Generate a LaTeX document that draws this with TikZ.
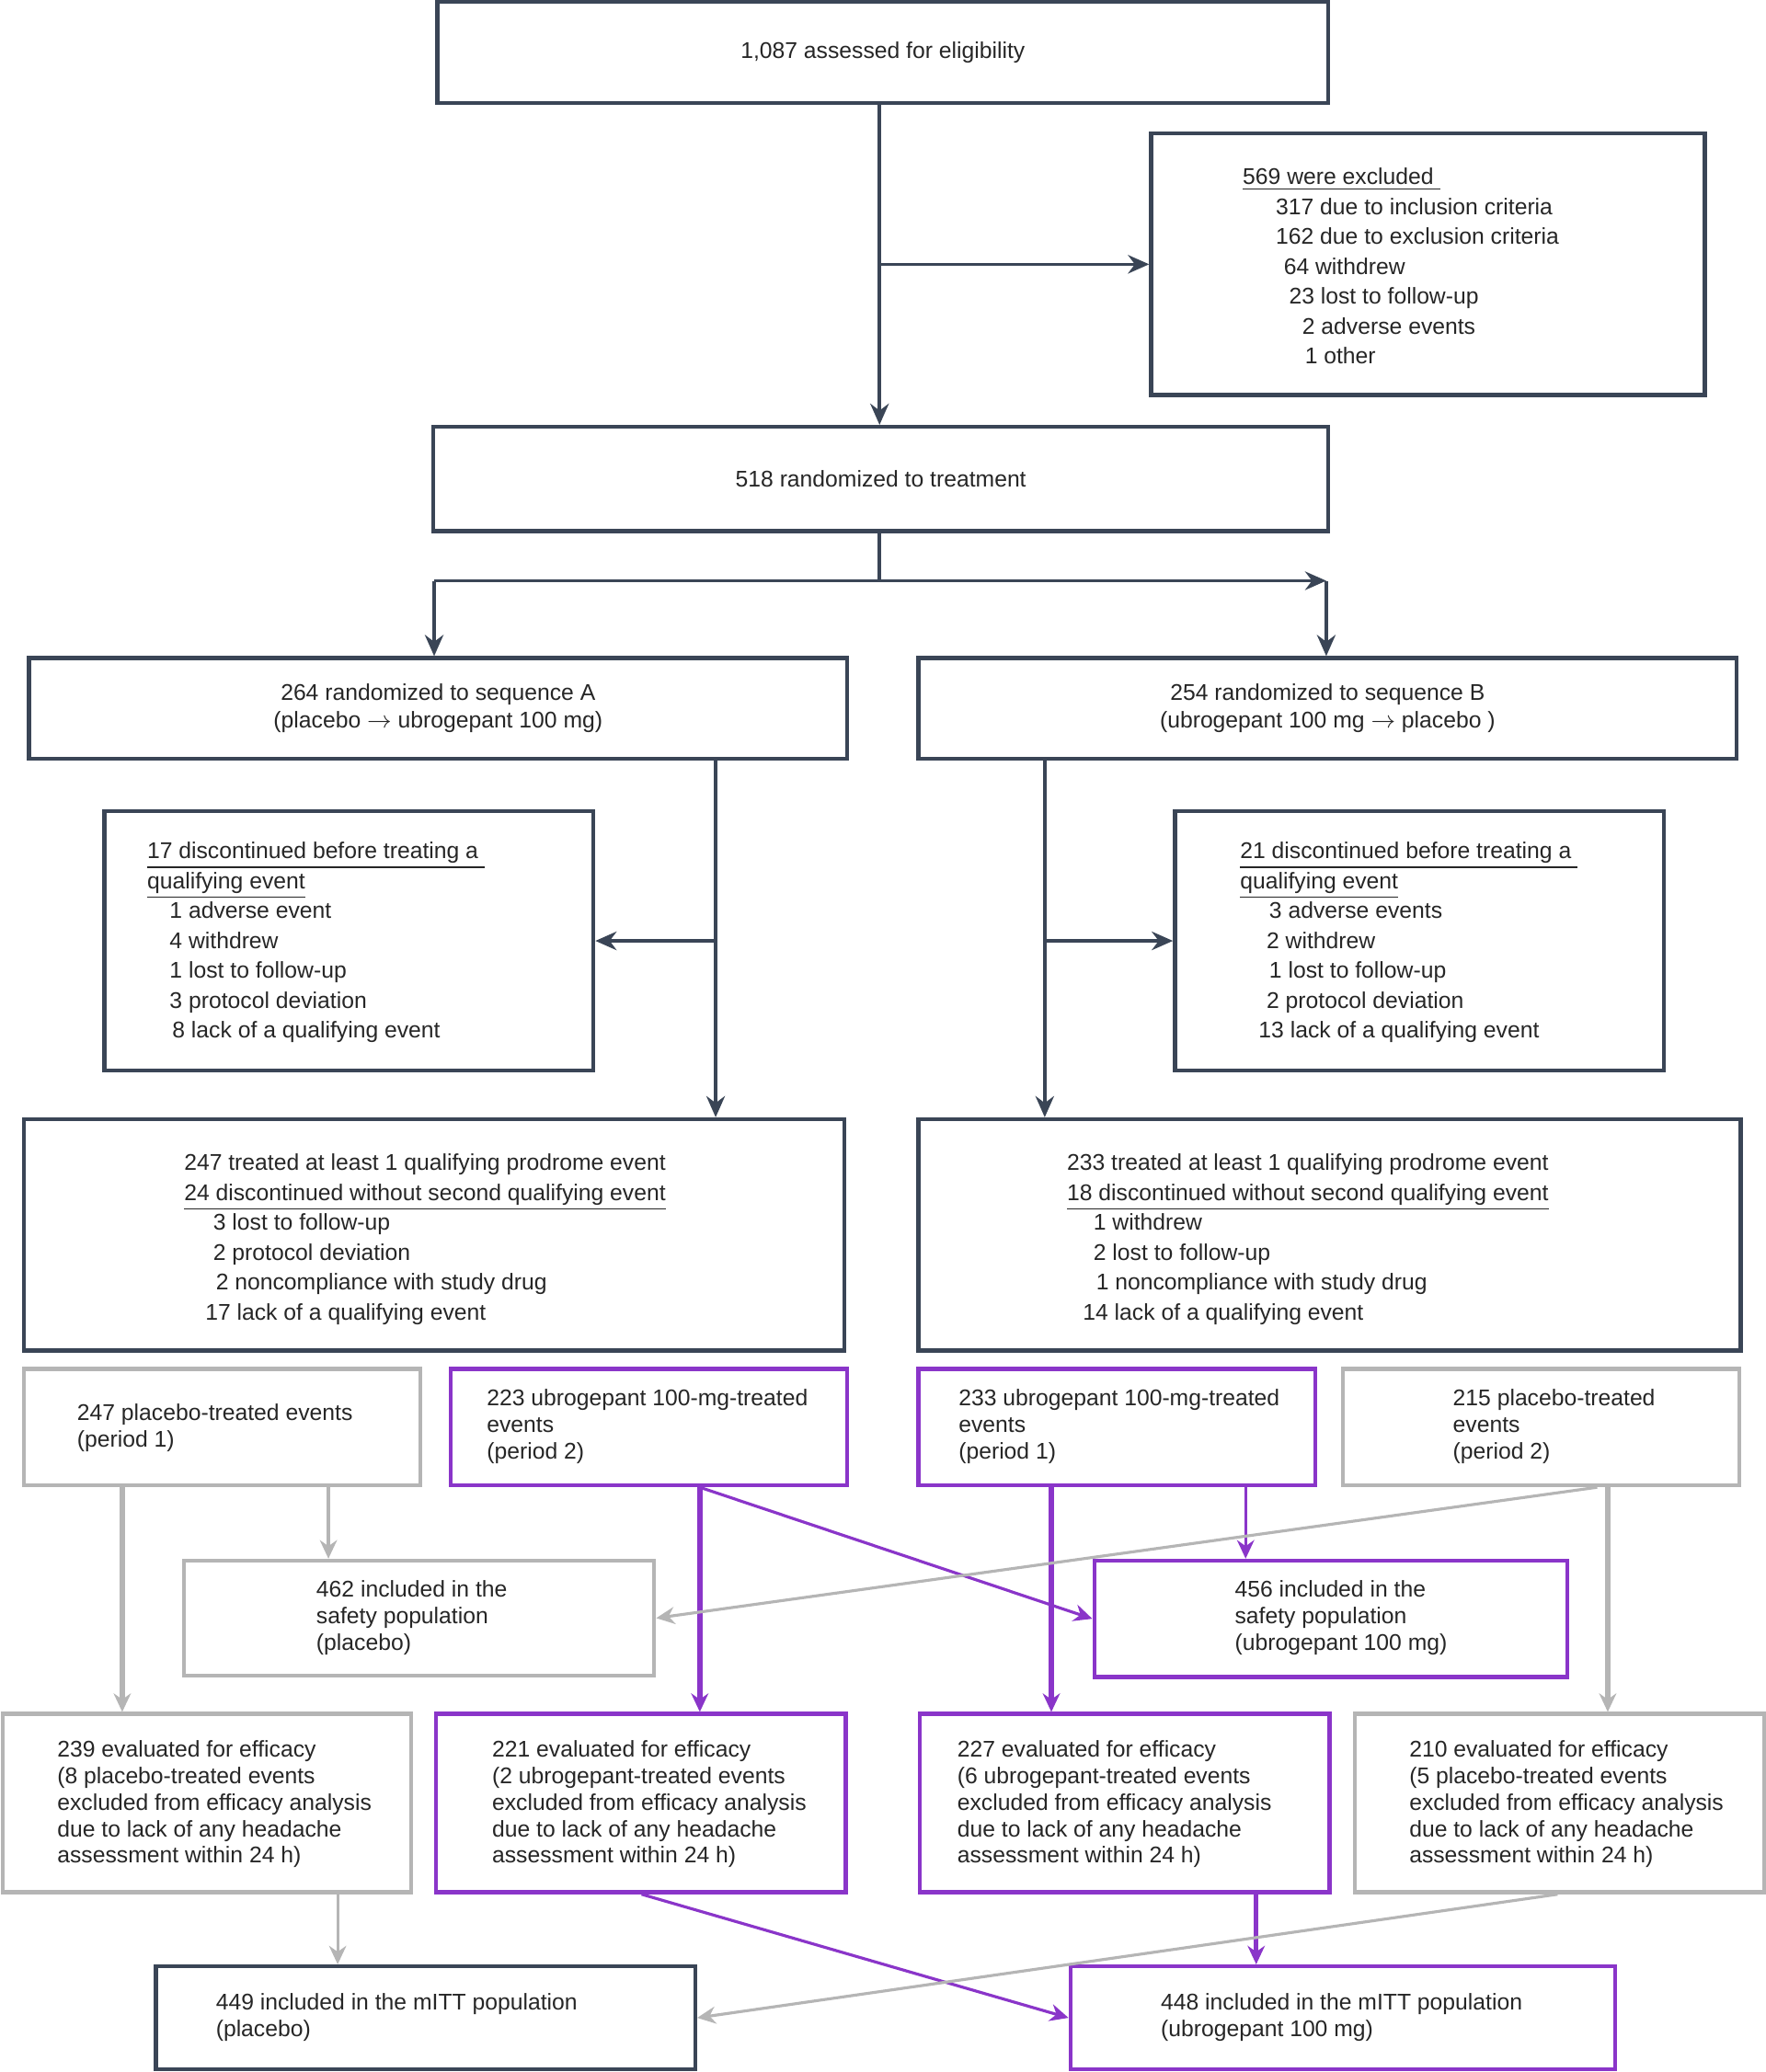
\documentclass[tikz,border=0pt]{standalone}
\usepackage{fontspec}
\setmainfont{Liberation Sans}
\usetikzlibrary{arrows.meta,calc}
\definecolor{dk}{HTML}{3A4556}
\definecolor{gr}{HTML}{B5B5B5}
\definecolor{pu}{HTML}{8A35C9}
\newcommand\mybox[6]{\node[draw=#6,line width=1.5pt,inner sep=0pt,minimum width={(#4-#2)*0.5pt},minimum height={(#5-#3)*0.5pt}] (#1) at ({(#2+#4)/2},{(#3+#5)/2}) {};}
\begin{document}
\begin{tikzpicture}[x=0.5pt,y=-0.5pt,
 t/.style={anchor=north west,inner sep=0pt,align=left,font=\fontsize{8.6}{11.3}\selectfont,text=black!85},
 ts/.style={t,font=\fontsize{8.6}{10}\selectfont},
 tc/.style={inner sep=0pt,align=center,font=\fontsize{8.6}{10.5}\selectfont,text=black!85},
 arr/.style={draw=dk,line width=1.3pt,-{Stealth[length=8pt,width=7pt]}},
 ga/.style={draw=gr,line width=1.1pt,-{Stealth[length=7pt,width=6.5pt]}},
 gA/.style={ga,line width=2.2pt},
 pa/.style={draw=pu,line width=1.1pt,-{Stealth[length=7pt,width=6.5pt]}},
 pA/.style={pa,line width=2.2pt}]
\useasboundingbox (0,0) rectangle (1336,1568);
\mybox{A}{331}{1}{1005}{78}{dk}
\mybox{Ex}{871}{101}{1290}{299}{dk}
\mybox{R}{328}{323}{1005}{402}{dk}
\mybox{SA}{22}{498}{641}{574}{dk}
\mybox{SB}{695}{498}{1314}{574}{dk}
\mybox{DA}{79}{614}{449}{810}{dk}
\mybox{DB}{889}{614}{1259}{810}{dk}
\mybox{TA}{18}{847}{639}{1022}{dk}
\mybox{TB}{695}{847}{1317}{1022}{dk}
\mybox{P1}{18}{1036}{318}{1124}{gr}
\mybox{U2}{341}{1036}{641}{1124}{pu}
\mybox{U1}{695}{1036}{995}{1124}{pu}
\mybox{P2}{1016}{1036}{1316}{1124}{gr}
\mybox{SP}{139}{1181}{495}{1268}{gr}
\mybox{SU}{828}{1181}{1186}{1269}{pu}
\mybox{E1}{2}{1297}{311}{1432}{gr}
\mybox{E2}{330}{1297}{640}{1432}{pu}
\mybox{E3}{696}{1297}{1006}{1432}{pu}
\mybox{E4}{1025}{1297}{1335}{1432}{gr}
\mybox{MP}{118}{1488}{526}{1566}{dk}
\mybox{MU}{810}{1488}{1222}{1566}{pu}
% texts
\node[tc] (tA) at (A) {1,087 assessed for eligibility};
\node[tc] (tR) at (R) {518 randomized to treatment};
\node[tc] (tSA) at (SA) {264 randomized to sequence A\\(placebo $\rightarrow$ ubrogepant 100 mg)};
\node[tc] (tSB) at (SB) {254 randomized to sequence B\\(ubrogepant 100 mg $\rightarrow$ placebo )};
\node[t] (tEx) at (940,127) {\underline{569 were excluded\ }\\\hspace*{12.5pt}317 due to inclusion criteria\\\hspace*{12.5pt}162 due to exclusion criteria\\\hspace*{15.5pt}64 withdrew\\\hspace*{17.5pt}23 lost to follow-up\\\hspace*{22.5pt}2 adverse events\\\hspace*{23.5pt}1 other};
\node[t] (tDA) at (111,637) {\underline{17 discontinued before treating a\ }\\\underline{qualifying event}\\\hspace*{8.5pt}1 adverse event\\\hspace*{8.5pt}4 withdrew\\\hspace*{8.5pt}1 lost to follow-up\\\hspace*{8.5pt}3 protocol deviation\\\hspace*{9.5pt}8 lack of a qualifying event};
\node[t] (tDB) at (938,637) {\underline{21 discontinued before treating a\ }\\\underline{qualifying event}\\\hspace*{11pt}3 adverse events\\\hspace*{10pt}2 withdrew\\\hspace*{11pt}1 lost to follow-up\\\hspace*{10pt}2 protocol deviation\\\hspace*{7pt}13 lack of a qualifying event};
\node[t] (tTA) at (139,873) {247 treated at least 1 qualifying prodrome event\\\underline{24 discontinued without second qualifying event}\\\hspace*{11pt}3 lost to follow-up\\\hspace*{11pt}2 protocol deviation\\\hspace*{12pt}2 noncompliance with study drug\\\hspace*{8pt}17 lack of a qualifying event};
\node[t] (tTB) at (807,873) {233 treated at least 1 qualifying prodrome event\\\underline{18 discontinued without second qualifying event}\\\hspace*{10pt}1 withdrew\\\hspace*{10pt}2 lost to follow-up\\\hspace*{11pt}1 noncompliance with study drug\\\hspace*{6pt}14 lack of a qualifying event};
\node[ts] (tP1) at (58,1062) {247 placebo-treated events\\(period 1)};
\node[ts] (tU2) at (368,1051) {223 ubrogepant 100-mg-treated\\events\\(period 2)};
\node[ts] (tU1) at (725,1051) {233 ubrogepant 100-mg-treated\\events\\(period 1)};
\node[ts] (tP2) at (1099,1051) {215 placebo-treated\\events\\(period 2)};
\node[ts] (tSP) at (239,1196) {462 included in the\\safety population\\(placebo)};
\node[ts] (tSU) at (934,1196) {456 included in the\\safety population\\(ubrogepant 100 mg)};
\node[ts] (tE1) at (43,1317) {239 evaluated for efficacy\\(8 placebo-treated events\\excluded from efficacy analysis\\due to lack of any headache\\assessment within 24 h)};
\node[ts] (tE2) at (372,1317) {221 evaluated for efficacy\\(2 ubrogepant-treated events\\excluded from efficacy analysis\\due to lack of any headache\\assessment within 24 h)};
\node[ts] (tE3) at (724,1317) {227 evaluated for efficacy\\(6 ubrogepant-treated events\\excluded from efficacy analysis\\due to lack of any headache\\assessment within 24 h)};
\node[ts] (tE4) at (1066,1317) {210 evaluated for efficacy\\(5 placebo-treated events\\excluded from efficacy analysis\\due to lack of any headache\\assessment within 24 h)};
\node[ts] (tMP) at (163,1508) {449 included in the mITT population\\(placebo)};
\node[ts] (tMU) at (878,1508) {448 included in the mITT population\\(ubrogepant 100 mg)};
% connectors
\coordinate (a) at ($(A.south west)+(336,0)$);
\draw[arr] (a) -- (a |- R.north);
\draw[arr] (a |- Ex.west) -- (Ex.west);
\coordinate (r) at ($(R.south west)+(339,0)$);
\draw[dk,line width=1.3pt] (r) -- ++(0,36) coordinate (rm);
\draw[arr] ($(rm)+(-337,0)$) -- ($(rm)+(338,0)$);
\draw[arr] (rm -| SA.north west) ++(308,0) coordinate (sal) -- (sal |- SA.north);
\draw[arr] ($(rm -| SB.north west)+(310,0)$) coordinate (sbl) -- (sbl |- SB.north);
\draw[dk,line width=1.3pt] ($(rm)+(-337,0)$) -- (sal);
\coordinate (sa) at ($(SA.south west)+(521,0)$);
\draw[arr] (sa) -- (sa |- TA.north);
\draw[arr] (sa |- DA.east) -- (DA.east);
\coordinate (sb) at ($(SB.south west)+(97,0)$);
\draw[arr] (sb) -- (sb |- TB.north);
\draw[arr] (sb |- DB.west) -- (DB.west);
\coordinate (p1a) at ($(P1.south west)+(76,0)$);
\coordinate (p1b) at ($(P1.south west)+(232,0)$);
\draw[gA] (p1a) -- (p1a |- E1.north);
\draw[ga] (p1b) -- (p1b |- SP.north);
\coordinate (u2) at ($(U2.south west)+(190,0)$);
\draw[pA] (u2) -- (u2 |- E2.north);
\draw[pa] (u2) -- (SU.west);
\coordinate (u1a) at ($(U1.south west)+(102,0)$);
\coordinate (u1b) at ($(U1.south west)+(249,0)$);
\draw[pA] (u1a) -- (u1a |- E3.north);
\draw[pa] (u1b) -- (u1b |- SU.north);
\coordinate (p2a) at ($(P2.south west)+(194,0)$);
\coordinate (p2b) at ($(P2.south west)+(202,0)$);
\draw[ga] (p2a) -- (SP.east);
\draw[gA] (p2b) -- (p2b |- E4.north);
\coordinate (e1) at ($(E1.south west)+(255,0)$);
\draw[ga] (e1) -- (e1 |- MP.north);
\coordinate (e2) at ($(E2.south west)+(157,0)$);
\draw[pa] (e2) -- (MU.west);
\coordinate (e3) at ($(E3.south west)+(256,0)$);
\draw[pA,line width=1.6pt] (e3) -- (e3 |- MU.north);
\coordinate (e4) at ($(E4.south west)+(155,0)$);
\draw[ga] (e4) -- (MP.east);
\end{tikzpicture}
\end{document}
